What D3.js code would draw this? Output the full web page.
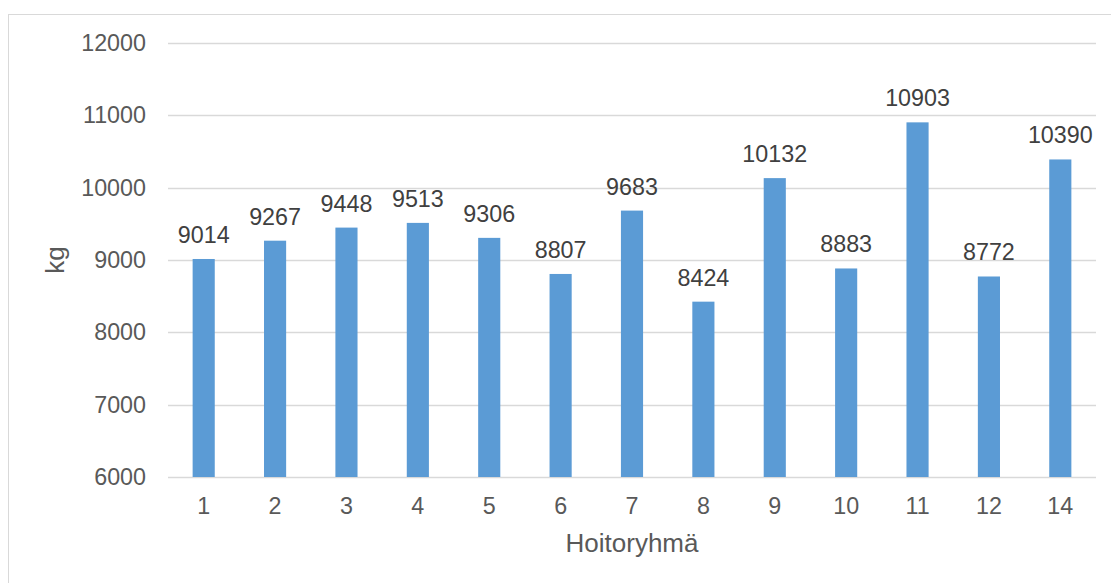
<!DOCTYPE html>
<html>
<head>
<meta charset="utf-8">
<script src="https://cdn.jsdelivr.net/npm/d3@7"></script>
<style>
  html, body { margin: 0; padding: 0; background: #fff; }
  svg { display: block; font-family: "Liberation Sans", Arial, sans-serif; }
</style>
</head>
<body>
<svg id="chart" width="1111" height="583"></svg>
<script>
const categories = ["1", "2", "3", "4", "5", "6", "7", "8", "9", "10", "11", "12", "14"];
const values = [9014, 9267, 9448, 9513, 9306, 8807, 9683, 8424, 10132, 8883, 10903, 8772, 10390];
const yTicks = [6000, 7000, 8000, 9000, 10000, 11000, 12000];
const yTitle = "kg";
const xTitle = "Hoitoryhmä";

const svg = d3.select("#chart");
const W = 1111, H = 583;
const plot = { left: 168, right: 1096, top: 43, bottom: 477 };
const textColor = "#595959";

// outer chart border
svg.append("rect")
  .attr("x", 8.5).attr("y", 14.5)
  .attr("width", W + 10).attr("height", H + 10)
  .attr("fill", "none").attr("stroke", "#d9d9d9").attr("stroke-width", 1);

const pi = 0.69;
const x = d3.scaleBand()
  .domain(categories)
  .range([plot.left, plot.right])
  .paddingInner(pi)
  .paddingOuter(pi / 2);

const y = d3.scaleLinear()
  .domain([6000, 12000])
  .range([plot.bottom, plot.top]);

// gridlines
svg.append("g")
  .selectAll("line")
  .data(yTicks)
  .join("line")
  .attr("x1", plot.left).attr("x2", plot.right)
  .attr("y1", d => Math.round(y(d)) + 0.5)
  .attr("y2", d => Math.round(y(d)) + 0.5)
  .attr("stroke", "#d9d9d9").attr("stroke-width", 1.3);

// y axis labels
const yAxis = d3.axisLeft(y).tickValues(yTicks).tickSize(0).tickPadding(22).tickFormat(d3.format("d"));
const gy = svg.append("g").attr("transform", `translate(${plot.left},0)`).call(yAxis);
gy.select(".domain").remove();
gy.selectAll("text")
  .attr("fill", textColor)
  .attr("font-size", "23.3px")
  .attr("font-family", "Liberation Sans, Arial, sans-serif");

// bars
svg.append("g")
  .selectAll("rect")
  .data(values)
  .join("rect")
  .attr("x", (d, i) => x(categories[i]))
  .attr("width", x.bandwidth())
  .attr("y", d => y(d))
  .attr("height", d => y(6000) - y(d))
  .attr("fill", "#5b9bd5");

// data labels
svg.append("g")
  .selectAll("text")
  .data(values)
  .join("text")
  .attr("x", (d, i) => x(categories[i]) + x.bandwidth() / 2)
  .attr("y", d => y(d) - 16)
  .attr("text-anchor", "middle")
  .attr("fill", "#404040")
  .attr("font-size", "23.3px")
  .text(d => d);

// x axis labels
const xAxis = d3.axisBottom(x).tickSize(0).tickPadding(20);
const gx = svg.append("g").attr("transform", `translate(0,${plot.bottom})`).call(xAxis);
gx.select(".domain").remove();
gx.selectAll("text")
  .attr("fill", textColor)
  .attr("font-size", "23.3px")
  .attr("font-family", "Liberation Sans, Arial, sans-serif");

// axis titles
svg.append("text")
  .attr("x", (plot.left + plot.right) / 2)
  .attr("y", 552)
  .attr("text-anchor", "middle")
  .attr("fill", textColor)
  .attr("font-size", "26px")
  .text(xTitle);

svg.append("text")
  .attr("transform", `translate(64,${(plot.top + plot.bottom) / 2}) rotate(-90)`)
  .attr("text-anchor", "middle")
  .attr("fill", textColor)
  .attr("font-size", "26px")
  .text(yTitle);
</script>
</body>
</html>
